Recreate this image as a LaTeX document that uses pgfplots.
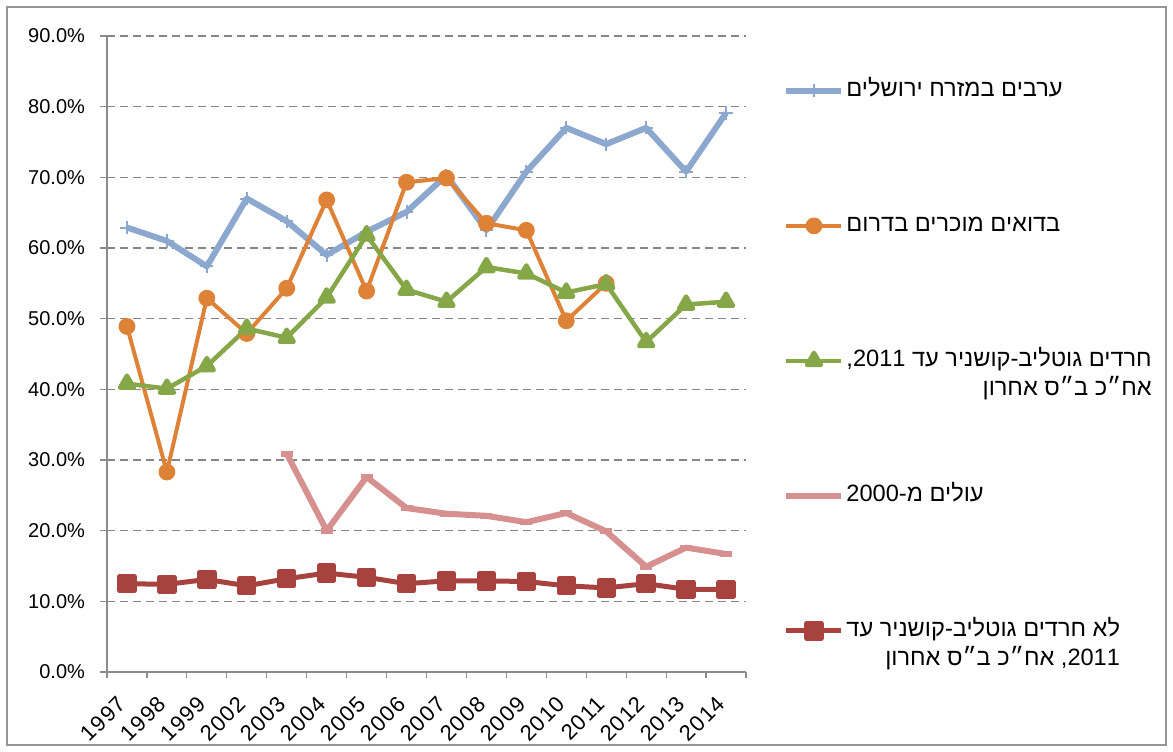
\documentclass[border=0pt]{standalone}
\usepackage{fontspec}
\setmainfont{Liberation Sans}
\newfontfamily\hebfont[Script=Hebrew]{Liberation Sans}
\newfontfamily\xtickfont[LetterSpace=6]{Liberation Sans}
\TeXXeTstate=1
\usepackage{pgfplots}
\pgfplotsset{compat=1.18}

\definecolor{cblue}{RGB}{141,168,207}
\definecolor{corange}{RGB}{222,130,56}
\definecolor{cgreen}{RGB}{134,167,72}
\definecolor{cpink}{RGB}{214,144,144}
\definecolor{cred}{RGB}{168,66,63}
\definecolor{gridgray}{RGB}{134,134,134}
\definecolor{axisgray}{RGB}{140,140,140}
\definecolor{framegray}{RGB}{150,150,150}

% two right-aligned lines, baseline on the first one
\newcommand\twolines[2]{\vtop{\halign{\hfil##\cr#1\cr#2\cr}}}

\begin{document}
\begin{tikzpicture}
\path[use as bounding box] (0,0) rectangle (586.5pt,375.5pt);
\draw[framegray, line width=0.6pt] (3.5pt,3pt) rectangle (583pt,372pt);
\begin{axis}[
    at={(53.5pt,39.5pt)}, anchor=south west,
    scale only axis, width=319.5pt, height=318pt,
    xmin=-0.5, xmax=15.5, ymin=0, ymax=90,
    axis x line*=bottom, axis y line*=left,
    axis line style={axisgray, line width=0.6pt, -},
    xtick={0,...,15},
    xticklabels={1997,1998,1999,2002,2003,2004,2005,2006,2007,2008,2009,2010,2011,2012,2013,2014},
    minor xtick={-0.5,0.5,...,15.5},
    major x tick style={draw=none},
    minor x tick style={axisgray, line width=0.6pt},
    ytick={0,10,...,90},
    y tick style={axisgray, line width=0.6pt},
    tick align=outside, major tick length=3.5pt, minor tick length=3pt,
    ymajorgrids,
    grid style={gridgray, line width=0.75pt, dash pattern=on 4pt off 2.5pt},
    yticklabel={\pgfmathprintnumber[fixed,fixed zerofill,precision=1]{\tick}\%},
    /pgf/number format/assume math mode=true,
    yticklabel style={font=\fontsize{10}{12}\selectfont, xshift=-4pt},
    xticklabel style={font=\xtickfont\fontsize{11}{13}\selectfont,
        xshift=0pt, yshift=-8pt, rotate=45, anchor=east},
    legend cell align=left,
    legend style={at={(1.058,0.934)}, anchor=north west, draw=none, fill=none,
        inner sep=0pt, row sep=55pt, column sep=0pt,
        font=\hebfont\fontsize{11.8}{14.5}\selectfont,
        nodes={inner xsep=1pt, inner ysep=1pt, text height=8pt, text depth=2.5pt}},
    legend image code/.code={\draw[mark repeat=2,mark phase=2]
        plot coordinates {(0pt,0pt) (13.75pt,0pt) (27.5pt,0pt)};},
    every axis plot/.append style={line join=round},
]
% Arabs in East Jerusalem
\addplot[color=cblue, line width=3pt, mark=+, mark size=3.3pt,
    mark options={line width=1pt}] coordinates {
    (0,62.9) (1,61.0) (2,57.4) (3,67.0) (4,63.8) (5,59.0) (6,62.3) (7,65.1)
    (8,70.3) (9,62.5) (10,70.8) (11,77.0) (12,74.7) (13,77.0) (14,70.8) (15,79.1)
};
\addlegendentry{\beginR ערבים במזרח ירושלים\endR}
% Recognised Bedouins in the south
\addplot[color=corange, line width=2pt, mark=*, mark size=3.2pt] coordinates {
    (0,48.9) (1,28.3) (2,52.9) (3,47.9) (4,54.3) (5,66.8) (6,53.9) (7,69.3)
    (8,69.9) (9,63.5) (10,62.5) (11,49.7) (12,55.0)
};
\addlegendentry{\beginR בדואים מוכרים בדרום\endR}
% Haredim
\addplot[color=cgreen, line width=2.25pt, mark=triangle*, mark size=4pt] coordinates {
    (0,40.8) (1,40.1) (2,43.3) (3,48.6) (4,47.3) (5,53.0) (6,61.8) (7,54.1)
    (8,52.4) (9,57.3) (10,56.4) (11,53.7) (12,54.9) (13,46.7) (14,52.0) (15,52.4)
};
\addlegendentry{\twolines{\beginR חרדים גוטליב-קושניר עד \beginL2011\endL,\endR}{\beginR אח״כ ב״ס אחרון\endR}}
% Immigrants since 2000
\addplot[color=cpink, line width=3pt, mark=-, mark size=3pt] coordinates {
    (4,30.9) (5,20.0) (6,27.6) (7,23.2) (8,22.4) (9,22.1) (10,21.2) (11,22.5)
    (12,19.9) (13,14.9) (14,17.6) (15,16.7)
};
\addlegendentry{\beginR עולים מ-\beginL2000\endL\endR}
% Non-Haredim
\addplot[color=cred, line width=2.5pt, mark=square*, mark size=3.6pt] coordinates {
    (0,12.5) (1,12.4) (2,13.1) (3,12.2) (4,13.2) (5,14.0) (6,13.4) (7,12.5)
    (8,12.9) (9,12.9) (10,12.8) (11,12.2) (12,11.9) (13,12.5) (14,11.7) (15,11.7)
};
\addlegendentry{\twolines{\beginR לא חרדים גוטליב-קושניר עד\endR}{\beginR\beginL2011\endL, אח״כ ב״ס אחרון\endR}}
\end{axis}
\end{tikzpicture}
\end{document}
